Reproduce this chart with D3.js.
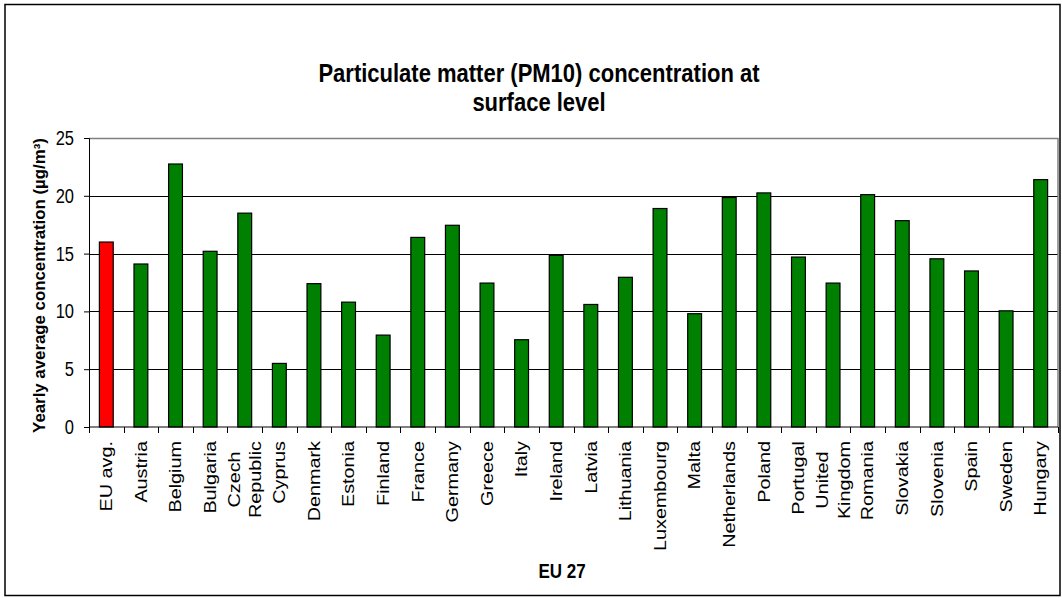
<!DOCTYPE html>
<html>
<head>
<meta charset="utf-8">
<script src="https://cdn.jsdelivr.net/npm/d3@7/dist/d3.min.js"></script>
<style>
  html, body { margin: 0; padding: 0; background: #fff; }
  svg { display: block; }
  text { font-family: "Liberation Sans", Arial, sans-serif; fill: #000; }
</style>
</head>
<body>
<svg id="chart" width="1062" height="598"></svg>
<script>
// Yearly average PM10 concentration per EU 27 member state (µg/m³)
const countries = [
  "EU avg.", "Austria", "Belgium", "Bulgaria", "Czech\nRepublic", "Cyprus",
  "Denmark", "Estonia", "Finland", "France", "Germany", "Greece", "Italy",
  "Ireland", "Latvia", "Lithuania", "Luxembourg", "Malta", "Netherlands",
  "Poland", "Portugal", "United\nKingdom", "Romania", "Slovakia", "Slovenia",
  "Spain", "Sweden", "Hungary"
];
const concentration = [
  16.0, 14.1, 22.75, 15.2, 18.5, 5.5,
  12.4, 10.8, 7.95, 16.4, 17.45, 12.45, 7.55,
  14.85, 10.6, 12.95, 18.9, 9.8, 19.85,
  20.25, 14.7, 12.45, 20.1, 17.85, 14.55,
  13.5, 10.05, 21.4
];
const yTicks = [0, 5, 10, 15, 20, 25];
const titleLines = ["Particulate matter (PM10) concentration at", "surface level"];
const xTitle = "EU 27";
const yTitle = "Yearly average concentration (µg/m³)";

const SY = 1.2; // vertical stretch applied to the lettering
const svg = d3.select("#chart");

const plot = { left: 89, right: 1058, top: 138, bottom: 427 };

const x = d3.scaleBand()
  .domain(countries)
  .range([plot.left, plot.right])
  .paddingInner(0.6)
  .paddingOuter(0.3);

const y = d3.scaleLinear()
  .domain([0, 25])
  .range([plot.bottom, plot.top]);

// outer chart frame
svg.append("rect")
  .attr("x", 5).attr("y", 4.5)
  .attr("width", 1055).attr("height", 591)
  .attr("fill", "none").attr("stroke", "#000").attr("stroke-width", 1.5);

// horizontal gridlines
svg.append("g")
  .selectAll("line")
  .data(yTicks.filter(t => t > 0 && t < 25))
  .join("line")
  .attr("x1", plot.left).attr("x2", plot.right)
  .attr("y1", d => Math.round(y(d)) + 0.5).attr("y2", d => Math.round(y(d)) + 0.5)
  .attr("stroke", "#000").attr("stroke-width", 1);

// plot area border (top and right)
svg.append("path")
  .attr("d", `M${plot.left},${Math.round(y(25)) + 0.5}H${plot.right}V${plot.bottom}`)
  .attr("fill", "none").attr("stroke", "#808080").attr("stroke-width", 1.5);

// bars
svg.append("g")
  .selectAll("rect")
  .data(countries.map((c, i) => ({ c, v: concentration[i], i })))
  .join("rect")
  .attr("x", d => x(d.c))
  .attr("y", d => y(d.v))
  .attr("width", x.bandwidth())
  .attr("height", d => y(0) - y(d.v))
  .attr("fill", d => d.i === 0 ? "#ff0000" : "#008000")
  .attr("stroke", "#000").attr("stroke-width", 1.2);

// y axis
const yAxis = d3.axisLeft(y).tickValues(yTicks).tickSize(5).tickFormat("");
const yg = svg.append("g").attr("transform", `translate(${plot.left},0)`).call(yAxis);
yg.select(".domain").attr("stroke", "#000");
yg.selectAll(".tick line").attr("stroke", "#000");

svg.append("g")
  .selectAll("g")
  .data(yTicks)
  .join("g")
  .attr("transform", d => `translate(74,${y(d)}) scale(1,${SY})`)
  .append("text")
  .attr("text-anchor", "end")
  .attr("dy", "0.35em")
  .attr("font-size", 16.5)
  .text(d => d);

// x axis with ticks between categories
const step = x.step();
const boundaries = d3.range(countries.length + 1).map(i => plot.left + i * step);
svg.append("line")
  .attr("x1", plot.left).attr("x2", plot.right)
  .attr("y1", plot.bottom).attr("y2", plot.bottom)
  .attr("stroke", "#000");
svg.append("g")
  .selectAll("line")
  .data(boundaries)
  .join("line")
  .attr("x1", d => Math.round(d) + 0.5).attr("x2", d => Math.round(d) + 0.5)
  .attr("y1", plot.bottom).attr("y2", plot.bottom + 6)
  .attr("stroke", "#000");

// rotated category labels; multi-line labels are centred on their longest line
const labelG = svg.append("g")
  .selectAll("g")
  .data(countries)
  .join("g")
  .attr("transform", d => `translate(${x(d) + x.bandwidth() / 2},441) scale(1,${SY}) rotate(-90)`);

labelG.each(function (d) {
  const g = d3.select(this);
  const lines = d.split("\n");
  const gap = 22;
  const texts = lines.map((ln, i) =>
    g.append("text")
      .attr("font-size", 16.5)
      .attr("y", (i - (lines.length - 1) / 2) * gap)
      .attr("dy", "0.35em")
      .text(ln));
  const w = d3.max(texts, t => t.node().getComputedTextLength());
  texts.forEach(t => t.attr("text-anchor", "middle").attr("x", -w / 2));
});

// chart title
svg.append("g")
  .selectAll("g")
  .data(titleLines)
  .join("g")
  .attr("transform", (d, i) => `translate(539,${82 + i * 29}) scale(1,${SY * 0.96})`)
  .append("text")
  .attr("text-anchor", "middle")
  .attr("font-size", 22)
  .attr("font-weight", "bold")
  .text(d => d);

// axis titles
svg.append("g")
  .attr("transform", `translate(562,578) scale(1,${SY})`)
  .append("text")
  .attr("text-anchor", "middle")
  .attr("font-size", 17)
  .attr("font-weight", "bold")
  .text(xTitle);

svg.append("g")
  .attr("transform", `translate(45,${(plot.top + plot.bottom) / 2 + 3}) scale(1,1.02) rotate(-90)`)
  .append("text")
  .attr("text-anchor", "middle")
  .attr("font-size", 16.5)
  .attr("font-weight", "bold")
  .text(yTitle);
</script>
</body>
</html>
